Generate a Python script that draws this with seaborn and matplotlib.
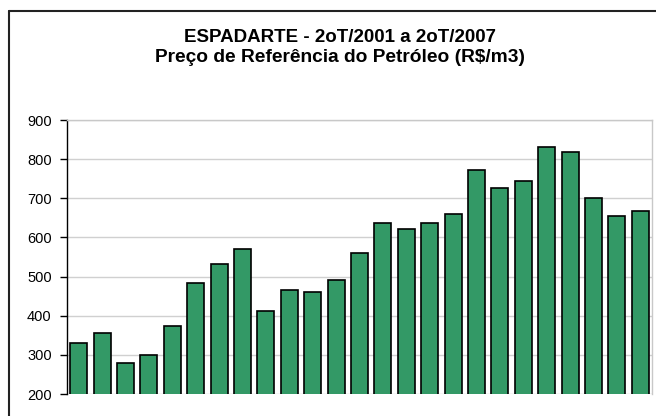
import matplotlib
matplotlib.use("Agg")
import matplotlib.pyplot as plt
from matplotlib.lines import Line2D
import seaborn as sns
import pandas as pd

periods = [f"P{i+1}" for i in range(25)]
values = [330, 356, 280, 300, 373, 483, 533, 571, 411, 465, 461, 491, 559,
          638, 622, 638, 659, 773, 727, 744, 832, 819, 702, 655, 668]
yticks = [200, 300, 400, 500, 600, 700, 800, 900]
title_lines = ["ESPADARTE - 2oT/2001 a 2oT/2007",
               "Preço de Referência do Petróleo (R$/m3)"]

sns.set_theme(style="white")
plt.rcParams['font.family'] = ['Liberation Sans', 'DejaVu Sans']

df = pd.DataFrame({"periodo": periods, "preco": values})

fig = plt.figure(figsize=(6.56, 4.16), dpi=100)
ax = fig.add_axes([67/656, 1-394/416, (652-67)/656, (394-120)/416])

sns.barplot(data=df, x="periodo", y="preco", color="#339966", saturation=1,
            width=0.73, edgecolor="black", linewidth=1.2, ax=ax, zorder=3)

ax.set_ylim(200, 900)
ax.set_xlim(-0.5, len(values) - 0.5)
ax.set_yticks(yticks)
ax.set_yticklabels([str(t) for t in yticks], fontsize=10.5, color="black")
ax.set_xticks([])
ax.set_xlabel("")
ax.set_ylabel("")
ax.yaxis.grid(True, color="#d0d0d0", linewidth=1, zorder=0)
ax.set_axisbelow(True)
ax.tick_params(axis="y", left=True, length=5, width=1, color="black", pad=6)

for s in ["top", "right"]:
    ax.spines[s].set_color("#c8c8c8")
    ax.spines[s].set_linewidth(1)
ax.spines["left"].set_color("black")
ax.spines["left"].set_linewidth(1)
ax.spines["bottom"].set_visible(False)

fig.text(340/656, 1-37/416, title_lines[0], ha="center", va="center",
         fontsize=13.5, fontweight="bold", color="black")
fig.text(340/656, 1-58/416, title_lines[1], ha="center", va="center",
         fontsize=13.8, fontweight="bold", color="black")

# outer frame (left and top edges visible)
fig.add_artist(Line2D([9/656, 9/656], [0, 1-11/416], transform=fig.transFigure,
                      color="#222222", linewidth=1.5))
fig.add_artist(Line2D([9/656, 1], [1-11/416, 1-11/416], transform=fig.transFigure,
                      color="#222222", linewidth=1.5))

fig.savefig("out.png", dpi=100)
